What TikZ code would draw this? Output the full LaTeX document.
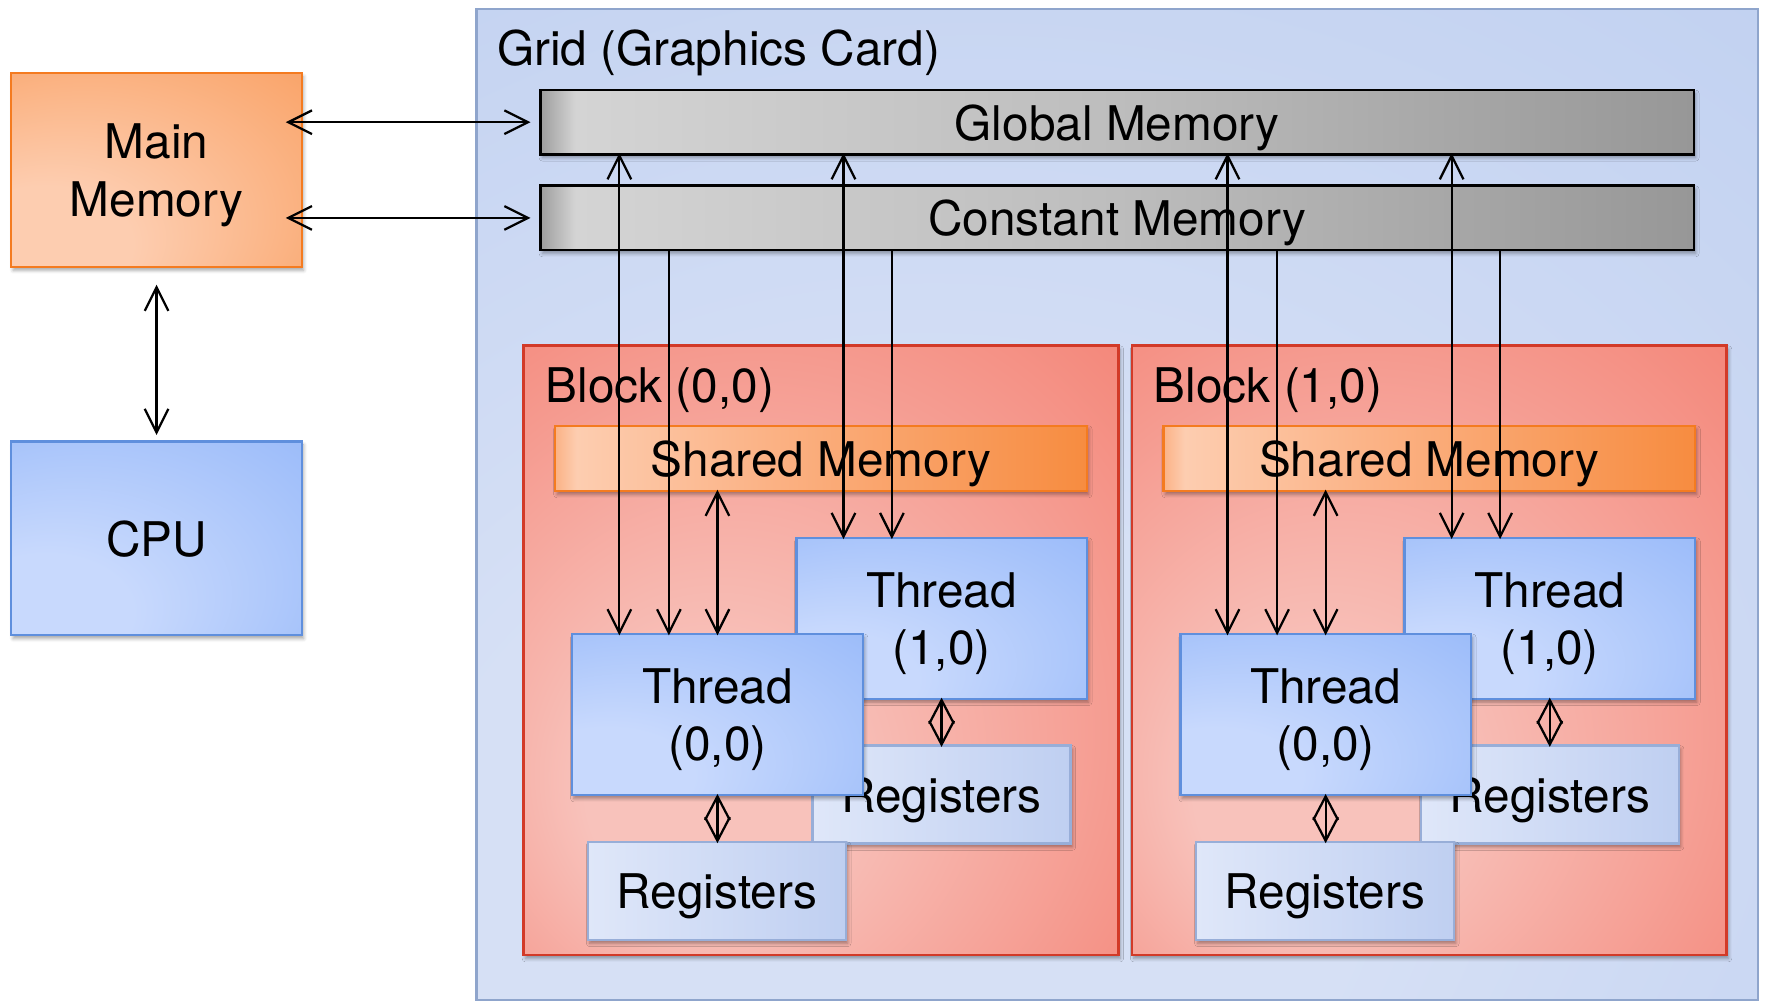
\documentclass[tikz,border=0pt]{standalone}
\usepackage{fontspec}
\setmainfont{TeX Gyre Heros}
\usetikzlibrary{arrows.meta,calc,shadows.blur}

% open "V" arrow tip with exact length and width
\pgfdeclarearrow{
  name = OpenV,
  parameters = {\the\pgfarrowlength,\the\pgfarrowwidth},
  setup code = {
    \pgfarrowssettipend{0pt}
    \pgfarrowssetlineend{-0.4pt}
    \pgfarrowssetbackend{-\pgfarrowlength}
    \pgfarrowsupperhullpoint{-\pgfarrowlength}{.5\pgfarrowwidth}
    \pgfarrowsupperhullpoint{0pt}{0pt}
    \pgfarrowssavethe\pgfarrowlength
    \pgfarrowssavethe\pgfarrowwidth
  },
  drawing code = {
    \pgfsetdash{}{+0pt}
    \pgfsetmiterjoin
    \pgfsetbuttcap
    \pgfpathmoveto{\pgfqpoint{-\pgfarrowlength}{.5\pgfarrowwidth}}
    \pgfpathlineto{\pgfqpoint{0pt}{0pt}}
    \pgfpathlineto{\pgfqpoint{-\pgfarrowlength}{-.5\pgfarrowwidth}}
    \pgfusepathqstroke
  },
  defaults = {length=10pt, width=10pt}
}

% palette
\definecolor{gridLight}{HTML}{D6E0F5}
\definecolor{gridDark}{HTML}{B2C6EE}
\definecolor{gridLine}{HTML}{8FA5CC}
\definecolor{barEdge}{HTML}{9E9E9E}
\definecolor{barLight}{HTML}{D4D4D4}
\definecolor{barMid}{HTML}{BDBDBD}
\definecolor{barDark}{HTML}{979797}
\definecolor{orLight}{HTML}{FDCDB0}
\definecolor{orMid}{HTML}{FBB285}
\definecolor{orDark}{HTML}{F78C40}
\definecolor{orEdge}{HTML}{FBB286}
\definecolor{orLine}{HTML}{F47B20}
\definecolor{blLight}{HTML}{C8D9FD}
\definecolor{blDark}{HTML}{82ABF7}
\definecolor{blLine}{HTML}{5F8FDD}
\definecolor{rgLight}{HTML}{DFE7F9}
\definecolor{rgDark}{HTML}{BFCFF1}
\definecolor{rgLine}{HTML}{98AED8}
\definecolor{bkLight}{HTML}{F8C2BB}
\definecolor{bkDark}{HTML}{F26C5C}
\definecolor{bkLine}{HTML}{D23A28}

% fills
\pgfdeclareradialshading{gridshade}{\pgfpoint{-12bp}{-25bp}}{color(0bp)=(gridLight); color(18bp)=(gridLight); color(65bp)=(gridDark)}
\pgfdeclarehorizontalshading{barshade}{100bp}{color(0bp)=(barEdge); color(25bp)=(barEdge); color(26.5bp)=(barLight); color(50bp)=(barMid); color(75bp)=(barDark); color(100bp)=(barDark)}
\pgfdeclareradialshading{mainshade}{\pgfpoint{-25bp}{-25bp}}{color(0bp)=(orLight); color(15bp)=(orLight); color(64bp)=(orDark)}
\pgfdeclarehorizontalshading{sharedshade}{100bp}{color(0bp)=(orEdge); color(25bp)=(orEdge); color(27bp)=(orLight); color(45bp)=(orMid); color(75bp)=(orDark); color(100bp)=(orDark)}
\pgfdeclareradialshading{threadshade}{\pgfpoint{-25bp}{-25bp}}{color(0bp)=(blLight); color(15bp)=(blLight); color(64bp)=(blDark)}
\pgfdeclarehorizontalshading{regshade}{100bp}{color(0bp)=(rgLight); color(25bp)=(rgLight); color(75bp)=(rgDark); color(100bp)=(rgDark)}
\pgfdeclareradialshading{blockshade}{\pgfpoint{-12bp}{-14bp}}{color(0bp)=(bkLight); color(10bp)=(bkLight); color(55bp)=(bkDark)}

\tikzset{
  lbl/.style={font=\fontsize{21.2pt}{25.5pt}\selectfont},
  box/.style={lbl, shade, inner sep=0pt, align=center, text depth=0pt,
    blur shadow={shadow xshift=0.8pt, shadow yshift=-1.5pt,
                 shadow blur radius=1.5pt, shadow opacity=35}},
  gridbox/.style={shade, shading=gridshade, draw=gridLine, line width=1pt, inner sep=0pt},
  bar/.style={box, shading=barshade, draw=black, line width=1.2pt,
    minimum width=512pt, minimum height=28.5pt},
  mainbox/.style={box, shading=mainshade, draw=orLine, line width=1pt,
    minimum width=129pt, minimum height=86pt},
  cpubox/.style={box, shading=threadshade, draw=blLine, line width=1pt,
    minimum width=129pt, minimum height=86pt},
  blockbox/.style={box, shading=blockshade, draw=bkLine, line width=1.2pt,
    minimum width=264pt, minimum height=270.5pt},
  sharedbox/.style={box, shading=sharedshade, draw=orLine, line width=1pt,
    minimum width=236pt, minimum height=29pt},
  threadbox/.style={box, shading=threadshade, draw=blLine, line width=1.1pt,
    minimum width=129pt, minimum height=71.5pt},
  regbox/.style={box, shading=regshade, draw=rgLine, line width=1pt,
    minimum width=114.5pt, minimum height=43.5pt},
  barb/.tip={OpenV[length=10.5pt,width=10.5pt]},
  sbarb/.tip={OpenV[length=10.5pt,width=11pt]},
  dbl/.style={draw, line width=1pt, barb-barb},
  one/.style={draw, line width=1pt, -barb},
  sdbl/.style={draw, line width=1pt, sbarb-sbarb},
}

\begin{document}
\begin{tikzpicture}[x=0.5pt, y=-0.5pt]
\useasboundingbox (0,0) rectangle (1568,890);

% the graphics card
\node[gridbox, minimum width=569pt, minimum height=440pt] (grid) at (992,448) {};
\node[lbl, anchor=base west, inner sep=0pt] (gridlbl) at (441,58) {Grid (Graphics Card)};
\node[bar] (gm) at (992,108.5) {Global Memory};
\node[bar] (cm) at (992,193.5) {Constant Memory};

% host side
\node[mainbox] (mm) at (139,151) {Main\\Memory};
\node[cpubox] (cpu) at (139,478) {CPU};

\draw[dbl] ([xshift=-6.5pt]mm.east |- gm.west) -- ([xshift=-5pt]gm.west);
\draw[dbl] ([xshift=-6.5pt]mm.east |- cm.west) -- ([xshift=-5pt]cm.west);
\draw[dbl] ([yshift=-8.5pt]mm.south) -- ([yshift=3.5pt]cpu.north);

% the two blocks
\foreach \b/\cx in {a/729, b/1269} {
  \node[blockbox] (blk\b) at (\cx,577.5) {};
  \node[sharedbox] (sm\b) at (\cx,407) {Shared Memory};
  \node[threadbox] (tB\b) at (\cx+107,549) {Thread\\(1,0)};
  \node[regbox] (rB\b) at (\cx+107,705.5) {Registers};
  \node[regbox] (rA\b) at (\cx-92.5,791) {Registers};
  \node[threadbox] (tA\b) at (\cx-92,634.5) {Thread\\(0,0)};
}
\node[lbl, anchor=base west, inner sep=0pt] (blklbla) at (484,357) {Block (0,0)};
\node[lbl, anchor=base west, inner sep=0pt] (blklblb) at (1024,357) {Block (1,0)};

% memory traffic of every thread
\foreach \b in {a,b} {
  \path ($(tA\b.north west)+(43,0)$) coordinate (ga\b)
        ($(tA\b.north west)+(87,0)$) coordinate (ca\b)
        ($(tB\b.north west)+(43,0)$) coordinate (gb\b)
        ($(tB\b.north west)+(86,0)$) coordinate (cb\b);
  \draw[dbl] (gm.south -| ga\b) -- (ga\b);
  \draw[one] (cm.south -| ca\b) -- (ca\b);
  \draw[dbl] (sm\b.south -| tA\b.north) -- (tA\b.north);
  \draw[dbl] (gm.south -| gb\b) -- (gb\b);
  \draw[one] (cm.south -| cb\b) -- (cb\b);
  \draw[sdbl] (tA\b.south) -- (rA\b.north -| tA\b.south);
  \draw[sdbl] (tB\b.south) -- (rB\b.north);
}
\end{tikzpicture}
\end{document}
